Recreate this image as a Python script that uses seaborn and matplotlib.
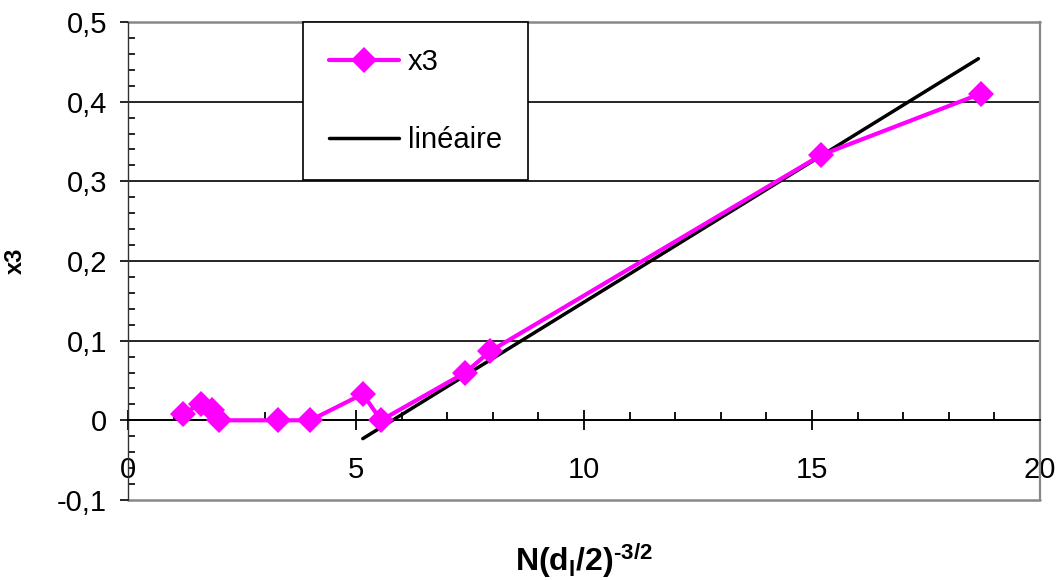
import matplotlib
matplotlib.use('Agg')
import matplotlib.pyplot as plt
import seaborn as sns
import pandas as pd
from matplotlib.ticker import MultipleLocator, FuncFormatter

# Values.
x3_x = [1.2, 1.6, 1.85, 2.0, 3.3, 4.0, 5.15, 5.55, 7.4, 7.95, 15.2, 18.7]
x3_y = [0.008, 0.021, 0.013, 0.0, 0.0, 0.0, 0.033, 0.0, 0.060, 0.087, 0.333, 0.410]
trend_x = [5.15, 18.65]
trend_y = [-0.023, 0.454]
x_ticks = [0, 5, 10, 15, 20]
y_ticks = [-0.1, 0.0, 0.1, 0.2, 0.3, 0.4, 0.5]

sns.set_style('white')
plt.rcParams['font.family'] = ['Liberation Sans', 'DejaVu Sans']
plt.rcParams['mathtext.fontset'] = 'custom'
plt.rcParams['mathtext.rm'] = 'Liberation Sans'
plt.rcParams['mathtext.bf'] = 'Liberation Sans:bold'
for key in ['text.color', 'axes.labelcolor', 'xtick.color', 'ytick.color']:
    plt.rcParams[key] = 'black'

fig = plt.figure(figsize=(10.61, 5.8), dpi=100)
ax = fig.add_axes([0.1206, 0.138, 0.8596, 0.824])

df = pd.DataFrame({'x': x3_x, 'y': x3_y})
sns.lineplot(data=df, x='x', y='y', ax=ax, color='#ff00ff', lw=3.0, marker='D',
             markersize=13, markeredgewidth=0, sort=False, estimator=None, label='x3', zorder=4)
sns.lineplot(x=trend_x, y=trend_y, ax=ax, color='black', lw=2.5, label='linéaire', zorder=3)

ax.set_xlim(0, 20)
ax.set_ylim(-0.1, 0.5)
ax.set_xticks(x_ticks)
ax.set_yticks(y_ticks)
ax.xaxis.set_minor_locator(MultipleLocator(1))
ax.yaxis.set_minor_locator(MultipleLocator(0.02))
ax.yaxis.set_major_formatter(FuncFormatter(lambda v, p: format(round(v, 1), 'g').replace('.', ',')))

# Excel-like axes: x axis crosses at y=0, grey frame around the plot area
ax.spines['bottom'].set_position(('data', 0))
ax.spines['bottom'].set_color('black')
ax.spines['bottom'].set_linewidth(1.3)
ax.spines['left'].set_color('#333333')
ax.spines['left'].set_linewidth(1.0)
ax.spines['top'].set_visible(False)
ax.spines['right'].set_color('#888888')
ax.spines['right'].set_linewidth(1.6)

ax.yaxis.grid(True, color='black', lw=1.2)
ax.set_axisbelow(True)
for t, v in zip(ax.yaxis.get_major_ticks(), y_ticks):
    if v in (-0.1, 0.5):
        t.gridline.set_color('#888888')
        t.gridline.set_linewidth(1.8)
        t.gridline.set_clip_on(False)

ax.tick_params(which='both', left=True, bottom=True)
ax.tick_params(axis='x', which='major', direction='inout', length=14, width=1.3,
               pad=19, labelsize=21, colors='black')
ax.tick_params(axis='x', which='minor', direction='in', length=6, width=1.3, colors='black')
ax.tick_params(axis='y', which='major', direction='out', length=6, width=1.2,
               pad=9, labelsize=21, colors='black')
ax.tick_params(axis='y', which='minor', direction='in', length=5, width=1.2, colors='black')

ax.set_xlabel('$\\mathbf{N(d_{l}/2)^{\u20103/2}}$', fontsize=23)
ax.xaxis.set_label_coords(0.5, -0.085)
ax.set_ylabel('x3', fontsize=17, fontweight='bold')
ax.yaxis.set_label_coords(-0.111, 0.5)

leg = ax.legend(loc='upper left', bbox_to_anchor=(0.192, 1.0), fontsize=21, frameon=True,
                fancybox=False, framealpha=1, edgecolor='black', borderaxespad=0,
                borderpad=0.9, labelspacing=1.7, handlelength=2.4, handletextpad=0.3,
                numpoints=1)
leg.get_frame().set_linewidth(1.2)
leg.set_zorder(10)

fig.savefig('out.png', dpi=100)
